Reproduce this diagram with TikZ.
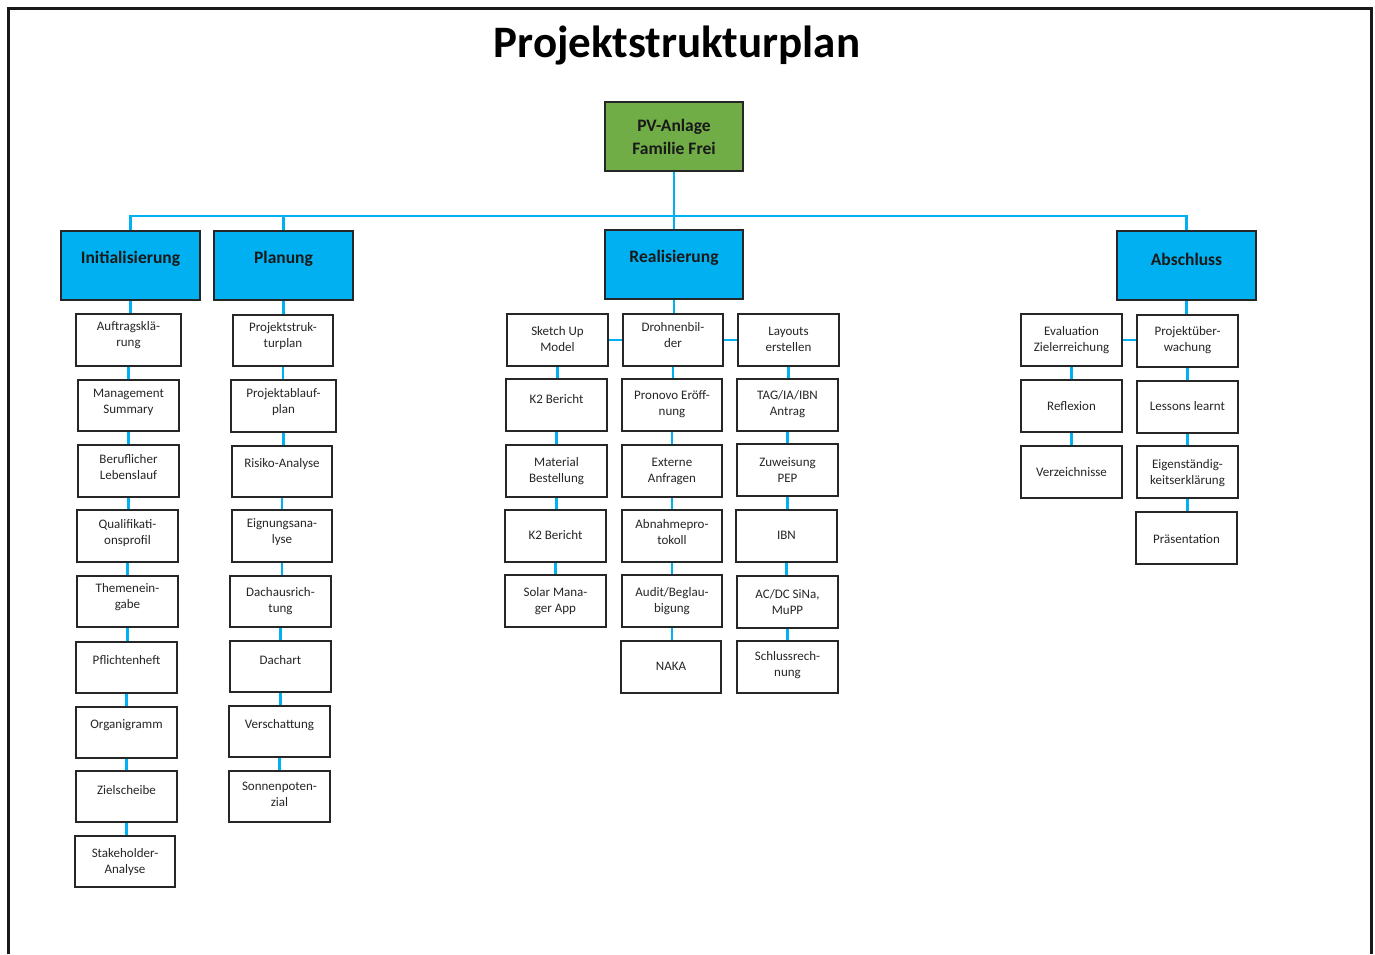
\documentclass[tikz,border=0pt]{standalone}
\usepackage{fontspec}
\setmainfont{Carlito}
\usetikzlibrary{calc,backgrounds}
\definecolor{cy}{HTML}{00B0F0}
\definecolor{gr}{HTML}{70AD47}
\definecolor{bd}{HTML}{262626}
\tikzset{
  wb/.style={draw=bd, line width=1.3pt, fill=white, inner sep=0pt},
  hb/.style={draw=bd, line width=1.3pt, fill=cy, inner sep=0pt},
  rb/.style={draw=bd, line width=1.3pt, fill=gr, inner sep=0pt},
  wt/.style={font=\fontsize{13}{16}\selectfont, align=center, inner sep=0pt, text=bd},
  ht/.style={font=\bfseries\fontsize{17.5}{23}\selectfont, align=center, inner sep=0pt, text=black!90},
  con/.style={draw=cy, line width=2.6pt},
  frame/.style={draw=black!90, line width=3pt},
}
% style, text style, name, x1, y1, x2, y2, text y, text
\newcommand\Bx[9]{%
  \node[#1, minimum width={(#6-#4)*1pt}, minimum height={(#7-#5)*1pt}] (#3) at ({(#4+#6)/2},{(#5+#7)/2}) {};
  \node[#2] (#3t) at ({(#4+#6)/2},#8) {#9};}
\begin{document}
\begin{tikzpicture}[x=1pt,y=-1pt]
\useasboundingbox (0,0) rectangle (1375,954);
\draw[frame] (8.5,954) -- (8.5,8.5) -- (1371.5,8.5) -- (1371.5,954);
\node[font=\bfseries\fontsize{45}{54}\selectfont, anchor=base, inner sep=0pt] (title) at (677,57) {Projektstrukturplan};

% root and level 1
\Bx{rb}{ht}{root}{605}{102}{743}{171}{136.5}{PV-Anlage\\Familie Frei}
\Bx{hb}{ht}{ini}{61}{231}{200}{300}{259}{Initialisierung}
\Bx{hb}{ht}{pla}{214}{231}{353}{300}{259}{Planung}
\Bx{hb}{ht}{rea}{605}{230}{743}{299}{258}{Realisierung}
\Bx{hb}{ht}{abs}{1117}{231}{1256}{300}{259}{Abschluss}

% Initialisierung
\Bx{wb}{wt}{i1}{76}{314}{181}{366}{335}{Auftragsklä-\\rung}
\Bx{wb}{wt}{i2}{78}{380}{179}{431}{402}{Management\\Summary}
\Bx{wb}{wt}{i3}{78}{445}{179}{497}{467}{Beruflicher\\Lebenslauf}
\Bx{wb}{wt}{i4}{77}{510}{178}{562}{533}{Qualifikati-\\onsprofil}
\Bx{wb}{wt}{i5}{77}{576}{178}{627}{597}{Themenein-\\gabe}
\Bx{wb}{wt}{i6}{76}{642}{177}{693}{660}{Pflichtenheft}
\Bx{wb}{wt}{i7}{76}{707}{177}{758}{725}{Organigramm}
\Bx{wb}{wt}{i8}{76}{771}{177}{822}{790}{Zielscheibe}
\Bx{wb}{wt}{i9}{75}{836}{175}{887}{862}{Stakeholder-\\Analyse}

% Planung
\Bx{wb}{wt}{p1}{233}{315}{333}{366}{336}{Projektstruk-\\turplan}
\Bx{wb}{wt}{p2}{231}{380}{336}{432}{402}{Projektablauf-\\plan}
\Bx{wb}{wt}{p3}{232}{446}{332}{497}{464}{Risiko-Analyse}
\Bx{wb}{wt}{p4}{232}{510}{332}{562}{532}{Eignungsana-\\lyse}
\Bx{wb}{wt}{p5}{230}{576}{331}{627}{601}{Dachausrich-\\tung}
\Bx{wb}{wt}{p6}{230}{641}{331}{692}{660}{Dachart}
\Bx{wb}{wt}{p7}{229}{706}{330}{757}{725}{Verschattung}
\Bx{wb}{wt}{p8}{229}{771}{330}{822}{794}{Sonnenpoten-\\zial}

% Realisierung left
\Bx{wb}{wt}{a1}{507}{314}{608}{366}{339}{Sketch Up\\Model}
\Bx{wb}{wt}{a2}{506}{379}{607}{431}{399}{K2 Bericht}
\Bx{wb}{wt}{a3}{506}{445}{607}{497}{471}{Material\\Bestellung}
\Bx{wb}{wt}{a4}{505}{510}{606}{562}{535}{K2 Bericht}
\Bx{wb}{wt}{a5}{505}{575}{606}{627}{601}{Solar Mana-\\ger App}
% Realisierung middle
\Bx{wb}{wt}{b1}{623}{314}{723}{366}{335}{Drohnenbil-\\der}
\Bx{wb}{wt}{b2}{622}{379}{722}{431}{404}{Pronovo Eröff-\\nung}
\Bx{wb}{wt}{b3}{622}{445}{722}{497}{471}{Externe\\Anfragen}
\Bx{wb}{wt}{b4}{622}{510}{722}{562}{532}{Abnahmepro-\\tokoll}
\Bx{wb}{wt}{b5}{622}{575}{722}{627}{601}{Audit/Beglau-\\bigung}
\Bx{wb}{wt}{b6}{621}{641}{721}{693}{666}{NAKA}
% Realisierung right
\Bx{wb}{wt}{c1}{738}{314}{839}{366}{339}{Layouts\\erstellen}
\Bx{wb}{wt}{c2}{737}{379}{838}{431}{404}{TAG/IA/IBN\\Antrag}
\Bx{wb}{wt}{c3}{737}{444}{838}{496}{470}{Zuweisung\\PEP}
\Bx{wb}{wt}{c4}{736}{510}{837}{562}{535}{IBN}
\Bx{wb}{wt}{c5}{737}{576}{838}{628}{602}{AC/DC SiNa,\\MuPP}
\Bx{wb}{wt}{c6}{737}{641}{838}{693}{665}{Schlussrech-\\nung}

% Abschluss left
\Bx{wb}{wt}{d1}{1021}{314}{1122}{366}{340}{Evaluation\\Zielerreichung}
\Bx{wb}{wt}{d2}{1021}{380}{1122}{432}{406}{Reflexion}
\Bx{wb}{wt}{d3}{1021}{446}{1122}{498}{472}{Verzeichnisse}
% Abschluss right
\Bx{wb}{wt}{e1}{1137}{315}{1238}{367}{340}{Projektüber-\\wachung}
\Bx{wb}{wt}{e2}{1137}{381}{1238}{433}{406}{Lessons learnt}
\Bx{wb}{wt}{e3}{1137}{446}{1238}{498}{473}{Eigenständig-\\keitserklärung}
\Bx{wb}{wt}{e4}{1136}{512}{1237}{564}{539}{Präsentation}

\begin{scope}[on background layer]
  \coordinate (bus) at (674,216);
  \draw[con] (ini.north) |- (bus) -| (abs.north);
  \draw[con] (pla.north) -- (pla.north |- bus);
  \draw[con] (root.south) -- (rea.north);
  % Initialisierung
  \draw[con] (ini.south) -- (ini.south |- i1.north);
  \foreach \u/\v in {i1/i2,i2/i3,i3/i4,i4/i5,i5/i6,i6/i7,i7/i8,i8/i9}
    \draw[con] (\u.south) -- (\u.south |- \v.north);
  % Planung
  \draw[con] (pla.south) -- (pla.south |- p1.north);
  \foreach \u/\v in {p1/p2,p2/p3,p3/p4,p4/p5,p5/p6,p6/p7,p7/p8}
    \draw[con] (\u.south) -- (\u.south |- \v.north);
  % Realisierung
  \draw[con] (rea.south) -- (rea.south |- b1.north);
  \draw[con] (a1.east) -- (a1.east -| b1.west);
  \draw[con] (b1.east) -- (b1.east -| c1.west);
  \foreach \u/\v in {a1/a2,a2/a3,a3/a4,a4/a5,b1/b2,b2/b3,b3/b4,b4/b5,b5/b6,c1/c2,c2/c3,c3/c4,c4/c5,c5/c6}
    \draw[con] (\u.south) -- (\u.south |- \v.north);
  % Abschluss
  \draw[con] (abs.south) -- (abs.south |- e1.north);
  \draw[con] (d1.east) -- (d1.east -| e1.west);
  \foreach \u/\v in {d1/d2,d2/d3,e1/e2,e2/e3,e3/e4}
    \draw[con] (\u.south) -- (\u.south |- \v.north);
\end{scope}
\end{tikzpicture}
\end{document}
